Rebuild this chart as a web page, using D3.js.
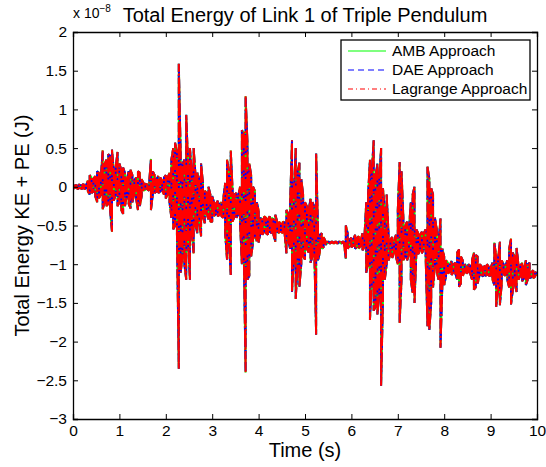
<!DOCTYPE html>
<html>
<head>
<meta charset="utf-8">
<script src="https://cdn.jsdelivr.net/npm/d3@7/dist/d3.min.js"></script>
<style>
  body { margin: 0; background: #fff; }
  svg { font-family: "Liberation Sans", Arial, Helvetica, sans-serif; }
</style>
</head>
<body>
<div id="chart"></div>
<script>
// envelope of the energy signal (units of 1e-8 J), one sample every 0.04 s from 0 to 10 s
const sampleStep = 0.04;
const upper = [
  0.01, 0.02, 0.02, 0.03, 0.02, 0.03, 0.03, 0.02, 0.08, 0.15, 0.12, 0.10, 0.14, 0.20, 0.18, 0.12, 0.47, 0.30, 0.35, 0.42, 0.40, 0.48, 0.20, 0.25, 0.45,
  0.30, 0.22, 0.25, 0.18, 0.10, 0.20, 0.22, 0.15, 0.08, 0.12, 0.20, 0.18, 0.10, 0.05, 0.04, 0.03, 0.04, 0.36, 0.20, 0.15, 0.10, 0.14, 0.12, 0.08, 0.12,
  0.15, 0.12, 0.18, 0.35, 0.50, 0.57, 0.45, 1.59, 0.44, 0.30, 0.35, 0.93, 0.30, 0.50, 0.20, 0.50, 0.15, 0.18, 0.10, 0.30, 0.05, -0.05, -0.08, 0.00, -0.10,
  -0.12, -0.20, -0.22, -0.18, -0.22, -0.20, -0.15, 0.05, 0.35, 0.20, 0.47, -0.05, -0.10, -0.08, -0.12, 0.00, 0.73, 0.70, 1.17, 0.57, 0.30, 0.15, 0.00, -0.05, -0.20,
  -0.30, -0.40, -0.42, -0.38, -0.40, -0.42, -0.38, -0.40, -0.42, -0.36, -0.45, -0.45, -0.48, -0.45, -0.46, -0.30, -0.35, -0.20, 0.60, -0.05, 0.50, 0.20, 0.31, 0.10, -0.10,
  -0.20, -0.25, -0.30, -0.15, -0.20, -0.25, 0.43, -0.55, -0.62, -0.60, -0.65, -0.70, -0.71, -0.71, -0.71, -0.71, -0.71, -0.71, -0.71, -0.71, -0.71, -0.71, -0.50, -0.60, -0.68,
  -0.66, -0.68, -0.62, -0.66, -0.64, -0.68, -0.60, -0.66, -0.20, -0.10, 0.35, 0.20, 0.60, 0.13, 0.30, 0.10, 0.50, -0.02, -0.30, -0.10, -0.60, -0.68, -0.65, -0.70, -0.62,
  -0.30, 0.32, 0.20, -0.40, -0.50, -0.45, -0.55, -0.20, -0.10, 0.00, -0.55, -0.60, -0.62, -0.58, -0.60, -0.55, 0.26, 0.10, -0.02, -0.10, -0.40, -0.55, -0.70, -0.41, -0.80,
  -0.90, -0.95, -0.98, -1.00, -0.96, -1.00, -0.98, -0.85, -0.81, -0.90, -0.95, -1.00, -1.02, -1.00, -1.02, -0.95, -0.85, -0.88, -0.90, -1.00, -1.02, -1.04, -1.02, -1.00, -1.03,
  -1.05, -0.98, -0.72, -0.90, -0.93, -0.71, -0.95, -1.00, -1.02, -0.95, -0.80, -0.67, -0.85, -0.90, -0.79, -1.00, -1.02, -0.98, -1.05, -0.95, -1.00, -0.98, -1.10, -1.08, -1.10,
  -1.12
];
const lower = [
  -0.01, -0.02, -0.02, -0.03, -0.02, -0.03, -0.03, -0.02, -0.06, -0.10, -0.08, -0.06, -0.12, -0.20, -0.15, -0.10, -0.29, -0.20, -0.25, -0.22, -0.30, -0.58, -0.18, -0.10, -0.25,
  -0.20, -0.30, -0.35, -0.25, -0.12, -0.22, -0.28, -0.20, -0.10, -0.15, -0.30, -0.25, -0.12, -0.05, -0.04, -0.03, -0.05, -0.30, -0.10, -0.08, -0.06, -0.08, -0.06, -0.05, -0.10,
  -0.15, -0.10, -0.20, -0.40, -0.55, -0.50, -0.60, -2.35, -1.11, -0.90, -1.00, -1.20, -0.70, -1.20, -0.60, -0.86, -0.50, -0.60, -0.45, -0.64, -0.40, -0.47, -0.35, -0.42, -0.45,
  -0.45, -0.38, -0.35, -0.38, -0.36, -0.38, -0.40, -0.60, -0.94, -0.70, -1.14, -0.45, -0.38, -0.40, -0.36, -0.45, -1.00, -0.80, -2.40, -1.20, -1.15, -0.90, -0.72, -0.65, -0.70,
  -0.72, -0.60, -0.62, -0.58, -0.60, -0.62, -0.58, -0.60, -0.62, -0.71, -0.58, -0.60, -0.58, -0.60, -0.60, -0.86, -0.70, -0.80, -1.36, -0.93, -1.45, -1.00, -1.29, -1.00, -0.90,
  -0.94, -0.80, -0.85, -0.98, -0.90, -0.80, -1.91, -0.95, -0.85, -0.80, -0.78, -0.75, -0.73, -0.73, -0.73, -0.73, -0.73, -0.73, -0.73, -0.73, -0.73, -0.73, -0.93, -0.80, -0.76,
  -0.78, -0.76, -0.80, -0.78, -0.80, -0.76, -0.82, -0.78, -1.11, -1.00, -1.72, -1.20, -1.60, -1.55, -1.65, -1.40, -2.57, -1.45, -1.20, -1.00, -0.95, -0.88, -0.92, -0.85, -0.90,
  -1.00, -1.76, -1.20, -0.95, -0.90, -0.95, -0.88, -1.20, -1.37, -1.50, -0.85, -0.87, -0.82, -0.86, -0.80, -0.90, -1.80, -1.85, -1.50, -1.30, -1.00, -1.10, -1.20, -2.08, -1.27,
  -1.27, -1.15, -1.12, -1.10, -1.14, -1.10, -1.12, -1.20, -1.29, -1.25, -1.15, -1.10, -1.12, -1.10, -1.12, -1.20, -1.33, -1.30, -1.25, -1.15, -1.14, -1.16, -1.15, -1.14, -1.15,
  -1.15, -1.20, -1.27, -1.55, -1.33, -1.53, -1.25, -1.13, -1.15, -1.20, -1.30, -1.52, -1.33, -1.25, -1.36, -1.20, -1.15, -1.22, -1.18, -1.27, -1.20, -1.18, -1.17, -1.18, -1.16,
  -1.15
];

const seriesNames = ["AMB Approach", "DAE Approach", "Lagrange Approach"];
const seriesColors = ["#00ff00", "#0000ff", "#ff0000"];
// dash styles for the legend samples
const seriesDash = [null, "6,4", "5,3,1,3"];
// on the dense signal MATLAB restarts the pattern at each vertex, so the dashes look much longer there
const signalDash = [null, "9,3", "16,2,2,2"];

const xTicks = [0, 1, 2, 3, 4, 5, 6, 7, 8, 9, 10];
const yTicks = [-3, -2.5, -2, -1.5, -1, -0.5, 0, 0.5, 1, 1.5, 2];

const width = 546, height = 467;
const margin = { top: 32, right: 9, bottom: 48, left: 73 };
const w = width - margin.left - margin.right;
const h = height - margin.top - margin.bottom;

const svg = d3.select('#chart').append('svg')
    .attr('width', width)
    .attr('height', height);

const g = svg.append('g')
    .attr('transform', 'translate(' + margin.left + ',' + margin.top + ')');

const x = d3.scaleLinear().domain([0, 10]).range([0, w]);
const y = d3.scaleLinear().domain([-3, 2]).range([h, 0]);

// signal points: each sample drawn as a swing between its upper and lower value
const points = [];
upper.forEach(function(u, i) {
    const t = i * sampleStep;
    if (i % 2 === 0) {
        points.push({ t: t, v: u }, { t: t, v: lower[i] });
    } else {
        points.push({ t: t, v: lower[i] }, { t: t, v: u });
    }
});

g.append('clipPath').attr('id', 'plotclip')
  .append('rect').attr('width', w).attr('height', h);

const line = d3.line()
    .x(function(d) { return x(d.t); })
    .y(function(d) { return y(d.v); });

const linesG = g.append('g').attr('clip-path', 'url(#plotclip)');
seriesNames.forEach(function(name, i) {
    linesG.append('path')
        .datum(points)
        .attr('d', line)
        .attr('fill', 'none')
        .attr('stroke', seriesColors[i])
        .attr('stroke-width', 2)
        .attr('stroke-linejoin', 'bevel')
        .attr('stroke-dasharray', signalDash[i]);
});

// axes, MATLAB style: ticks inside on all four sides
const fmt = d3.format('');
const tickLen = 5;

g.append('g').attr('transform', 'translate(0,' + h + ')')
    .call(d3.axisBottom(x).tickValues(xTicks).tickSize(-tickLen).tickPadding(6).tickFormat(fmt))
    .call(styleAxis);
g.append('g')
    .call(d3.axisTop(x).tickValues(xTicks).tickSize(-tickLen).tickFormat(''))
    .call(styleAxis);
g.append('g')
    .call(d3.axisLeft(y).tickValues(yTicks).tickSize(-tickLen).tickPadding(6).tickFormat(fmt))
    .call(styleAxis);
g.append('g').attr('transform', 'translate(' + w + ',0)')
    .call(d3.axisRight(y).tickValues(yTicks).tickSize(-tickLen).tickFormat(''))
    .call(styleAxis);

function styleAxis(sel) {
    sel.select('.domain').attr('stroke', '#000').attr('stroke-width', 1.3);
    sel.selectAll('.tick line').attr('stroke', '#000').attr('stroke-width', 1);
    sel.selectAll('.tick text')
        .attr('fill', '#000')
        .style('font-size', '15.5px')
        .style('font-family', '"Liberation Sans", Arial, Helvetica, sans-serif');
}

// exponent label
const expo = svg.append('text')
    .attr('x', margin.left)
    .attr('y', 18)
    .style('font-size', '14px')
    .attr('fill', '#000');
expo.append('tspan').text('x 10');
expo.append('tspan').attr('dy', -6).style('font-size', '10px').text('\u22128');

// title and axis labels
svg.append('text')
    .attr('x', margin.left + w / 2)
    .attr('y', 22)
    .attr('text-anchor', 'middle')
    .style('font-size', '20px')
    .attr('fill', '#000')
    .text('Total Energy of Link 1 of Triple Pendulum');

svg.append('text')
    .attr('x', margin.left + w / 2)
    .attr('y', 457)
    .attr('text-anchor', 'middle')
    .style('font-size', '20px')
    .attr('fill', '#000')
    .text('Time (s)');

svg.append('text')
    .attr('transform', 'translate(29,' + (margin.top + h / 2) + ') rotate(-90)')
    .attr('text-anchor', 'middle')
    .style('font-size', '20px')
    .attr('fill', '#000')
    .text('Total Energy KE + PE (J)');

// legend
const legend = svg.append('g').attr('transform', 'translate(341,40)');
legend.append('rect')
    .attr('width', 189)
    .attr('height', 60)
    .attr('fill', '#fff')
    .attr('stroke', '#000')
    .attr('stroke-width', 1.3);

seriesNames.forEach(function(name, i) {
    const row = legend.append('g').attr('transform', 'translate(0,' + (11 + i * 19) + ')');
    row.append('line')
        .attr('x1', 7).attr('x2', 45)
        .attr('stroke', seriesColors[i])
        .attr('stroke-width', 1.2)
        .attr('stroke-dasharray', seriesDash[i]);
    row.append('text')
        .attr('x', 51)
        .attr('dy', '0.35em')
        .style('font-size', '15.5px')
        .attr('fill', '#000')
        .text(name);
});
</script>
</body>
</html>
